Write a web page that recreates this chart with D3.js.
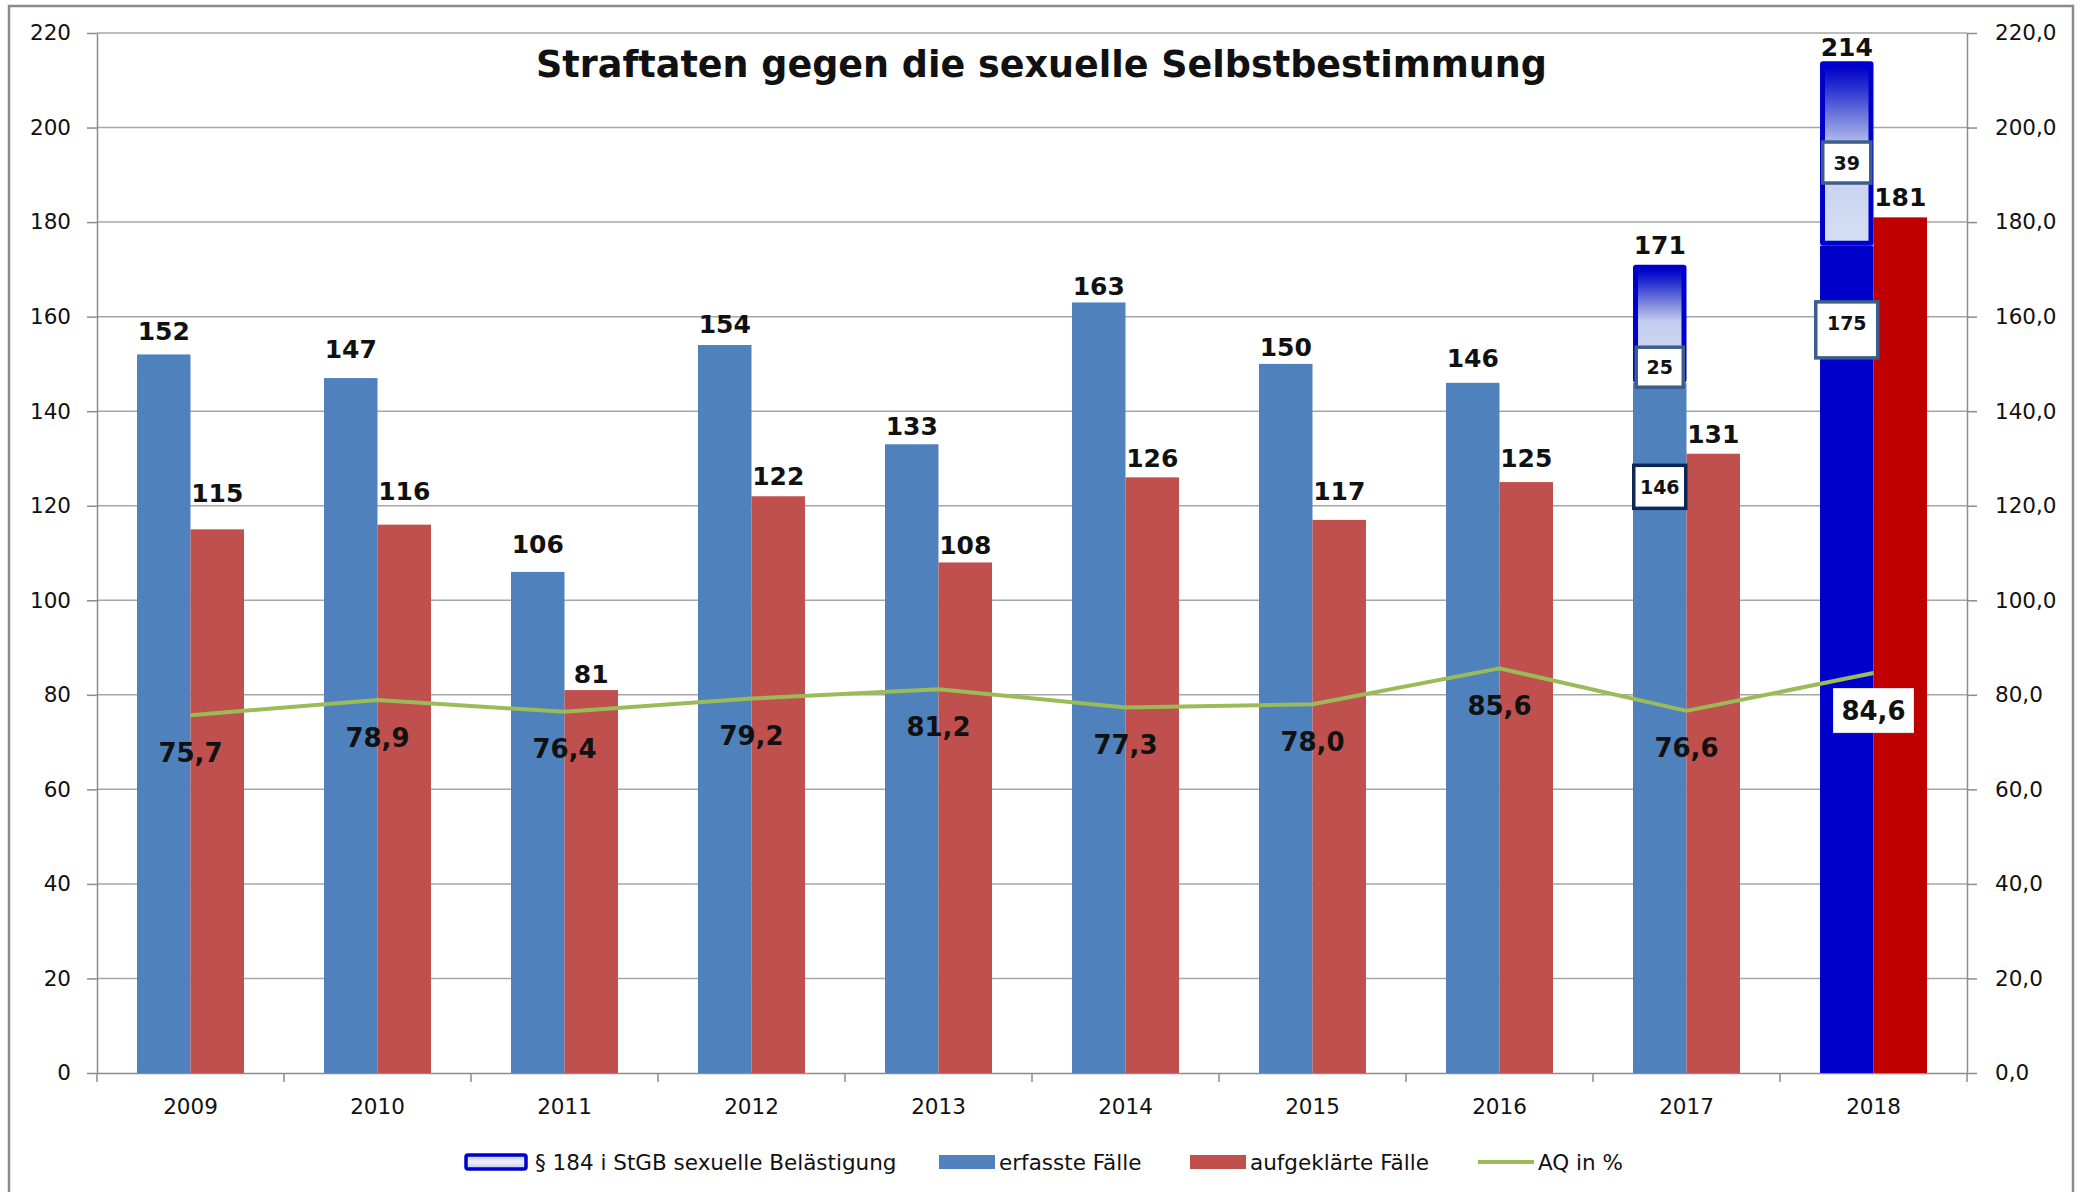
<!DOCTYPE html>
<html>
<head>
<meta charset="utf-8">
<script src="https://cdn.jsdelivr.net/npm/d3@7"></script>
<style>
  body { margin: 0; background: #fff; }
  svg { display: block; }
  text { font-family: "DejaVu Sans", sans-serif; fill: #111; }
</style>
</head>
<body>
<svg id="chart"></svg>
<script>
// data
const years = ["2009", "2010", "2011", "2012", "2013", "2014", "2015", "2016", "2017", "2018"];
const erfasst = [152, 147, 106, 154, 133, 163, 150, 146, 146, 175];
const aufgeklaert = [115, 116, 81, 122, 108, 126, 117, 125, 131, 181];
const belaestigung = [null, null, null, null, null, null, null, null, 25, 39];
const aq = [75.7, 78.9, 76.4, 79.2, 81.2, 77.3, 78.0, 85.6, 76.6, 84.6];
const yTicks = [0, 20, 40, 60, 80, 100, 120, 140, 160, 180, 200, 220];
const title = "Straftaten gegen die sexuelle Selbstbestimmung";
const legendLabels = ["§ 184 i StGB sexuelle Belästigung", "erfasste Fälle", "aufgeklärte Fälle", "AQ in %"];

//
// look / layout
const W = 2080, H = 1192;
const plotL = 97, plotR = 1967, plotT = 33, plotB = 1073;
const blue = "#4f81bd", red = "#c0504d", darkBlue = "#0000cc", darkRed = "#c00000", green = "#9bbb59";
const highlight = "2018";
// label lift above bar top (px, to the label's middle), as the labels sit in the source
const erfLift = [23, 29, 28, 21, 18, 16, 17, 25, 20, 14];
const aufLift = [36, 34, 16, 20, 17.5, 19, 29, 24, 20, 20];
// boxed labels inside the 2017/2018 bars: where (value units), box size, text shift in box
const boxAt = {
  "2017": {erf: 124, bel: 149.3, erfSize: [52, 43], belSize: [47, 40], erfStroke: "#0f2757", erfDy: 0},
  "2018": {erf: 157.2, bel: 192.6, erfSize: [62, 56], belSize: [48, 41], erfStroke: "#3b5e8c", erfDy: -7}
};

const de = d3.formatLocale({decimal: ",", thousands: ".", grouping: [3], currency: ["", " €"]});
const fmt1 = de.format(".1f");

const svg = d3.select("#chart").attr("width", W).attr("height", H);
svg.append("rect").attr("width", W).attr("height", H).attr("fill", "#fff");

// frame
svg.append("rect")
  .attr("x", 9).attr("y", 6).attr("width", 2064).attr("height", 1210)
  .attr("fill", "none").attr("stroke", "#8a8a8a").attr("stroke-width", 2.5);

const defs = svg.append("defs");
const grad = defs.append("linearGradient").attr("id", "belGrad")
  .attr("x1", 0).attr("y1", 0).attr("x2", 0).attr("y2", 1);
[[0, "#0000c8"], [0.12, "#2630d0"], [0.3, "#7680dc"], [0.48, "#c4cdee"], [1, "#d4def2"]]
  .forEach(s => grad.append("stop").attr("offset", s[0]).attr("stop-color", s[1]));
const lgrad = defs.append("linearGradient").attr("id", "legGrad")
  .attr("x1", 0).attr("y1", 0).attr("x2", 0).attr("y2", 1);
[[0, "#b8c2ec"], [0.5, "#eef2fb"], [1, "#b8c2ec"]]
  .forEach(s => lgrad.append("stop").attr("offset", s[0]).attr("stop-color", s[1]));

//
// scales
const x = d3.scaleBand().domain(years).range([plotL, plotR]);
const x1 = d3.scaleBand().domain(["erf", "auf"]).range([0, x.bandwidth()]).paddingOuter(0.748);
const y = d3.scaleLinear().domain([0, 220]).range([plotB, plotT]);

//
// gridlines
svg.append("g").selectAll("line")
  .data(yTicks.filter(v => v > 0))
  .join("line")
  .attr("x1", plotL).attr("x2", plotR)
  .attr("y1", d => y(d)).attr("y2", d => y(d))
  .attr("stroke", "#a6a6a6").attr("stroke-width", 1.5);

//
// axes
const axL = svg.append("g").attr("transform", `translate(${plotL},0)`)
  .call(d3.axisLeft(y).tickValues(yTicks).tickSize(10).tickPadding(16).tickSizeOuter(0));
const axR = svg.append("g").attr("transform", `translate(${plotR},0)`)
  .call(d3.axisRight(y).tickValues(yTicks).tickFormat(fmt1).tickSize(10).tickPadding(18).tickSizeOuter(0));
const axB = svg.append("g").attr("transform", `translate(0,${plotB})`)
  .call(d3.axisBottom(x).tickSize(0).tickPadding(26).tickSizeOuter(0));
[axL, axR, axB].forEach(a => {
  a.selectAll("path, line").attr("stroke", "#8c8c8c").attr("stroke-width", 1.5);
  a.selectAll("text").style("font-family", "DejaVu Sans, sans-serif").style("font-size", "21.5px").attr("fill", "#222");
});
// category boundary ticks
svg.append("g").selectAll("line")
  .data(years.map(d => x(d)).concat([plotR]))
  .join("line")
  .attr("x1", d => d).attr("x2", d => d)
  .attr("y1", plotB).attr("y2", plotB + 9)
  .attr("stroke", "#8c8c8c").attr("stroke-width", 1.5);

//
// bars
const rows = years.map((yr, i) => ({yr, i, erf: erfasst[i], auf: aufgeklaert[i], bel: belaestigung[i], aq: aq[i]}));
const grp = svg.append("g").selectAll("g")
  .data(rows).join("g")
  .attr("transform", d => `translate(${x(d.yr)},0)`);

grp.append("rect")
  .attr("x", x1("erf")).attr("width", x1.bandwidth())
  .attr("y", d => y(d.erf)).attr("height", d => y(0) - y(d.erf))
  .attr("fill", d => d.yr === highlight ? darkBlue : blue);
grp.append("rect")
  .attr("x", x1("auf")).attr("width", x1.bandwidth())
  .attr("y", d => y(d.auf)).attr("height", d => y(0) - y(d.auf))
  .attr("fill", d => d.yr === highlight ? darkRed : red);

// § 184 segment stacked on top of erfasste Fälle
const seg = grp.filter(d => d.bel != null);
seg.append("rect")
  .attr("x", x1("erf")).attr("width", x1.bandwidth())
  .attr("y", d => y(d.erf + d.bel)).attr("height", d => y(d.erf) - y(d.erf + d.bel))
  .attr("rx", 3)
  .attr("fill", darkBlue);
seg.append("rect")
  .attr("x", x1("erf") + 5).attr("width", x1.bandwidth() - 10)
  .attr("y", d => y(d.erf + d.bel) + 5).attr("height", d => y(d.erf) - y(d.erf + d.bel) - 10)
  .attr("fill", "url(#belGrad)");

//
// AQ line
svg.append("path")
  .datum(rows)
  .attr("fill", "none").attr("stroke", green).attr("stroke-width", 4)
  .attr("stroke-linejoin", "round")
  .attr("d", d3.line().x(d => x(d.yr) + x.bandwidth() / 2).y(d => y(d.aq)));

//
// value labels above bars
const cx = (d, key) => x(d.yr) + x1(key) + x1.bandwidth() / 2;
grp.append("text")
  .attr("x", d => x1("erf") + x1.bandwidth() / 2)
  .attr("y", d => y(d.erf + (d.bel || 0)) - erfLift[d.i] + 9)
  .attr("text-anchor", "middle")
  .style("font-size", "25px").style("font-weight", "bold")
  .text(d => d.erf + (d.bel || 0));
grp.append("text")
  .attr("x", d => x1("auf") + x1.bandwidth() / 2)
  .attr("y", d => y(d.auf) - aufLift[d.i] + 9)
  .attr("text-anchor", "middle")
  .style("font-size", "25px").style("font-weight", "bold")
  .text(d => d.auf);

// boxed labels for 2017 / 2018
function boxLabel(g, cxv, cyv, size, stroke, txt, dy) {
  g.append("rect")
    .attr("x", cxv - size[0] / 2).attr("y", cyv - size[1] / 2)
    .attr("width", size[0]).attr("height", size[1])
    .attr("fill", "#fff").attr("stroke", stroke).attr("stroke-width", 3.5);
  g.append("text")
    .attr("x", cxv).attr("y", cyv + 7 + dy)
    .attr("text-anchor", "middle")
    .style("font-size", "19px").style("font-weight", "bold")
    .text(txt);
}
const boxes = svg.append("g");
rows.filter(d => d.bel != null).forEach(d => {
  const b = boxAt[d.yr];
  const bx = cx(d, "erf");
  boxLabel(boxes, bx, y(b.erf), b.erfSize, b.erfStroke, d.erf, b.erfDy);
  boxLabel(boxes, bx, y(b.bel), b.belSize, "#3b5e8c", d.bel, 0);
});

//
// AQ labels below the line
const aqLab = svg.append("g");
rows.forEach(d => {
  const lx = x(d.yr) + x.bandwidth() / 2, ly = y(d.aq) + 37;
  if (d.yr === highlight) {
    aqLab.append("rect")
      .attr("x", lx - 40).attr("y", ly - 21.5).attr("width", 80).attr("height", 44)
      .attr("fill", "#fff").attr("stroke", "#e4e4e4").attr("stroke-width", 1);
  }
  aqLab.append("text")
    .attr("x", lx).attr("y", ly + 9.5)
    .attr("text-anchor", "middle")
    .style("font-size", "26px").style("font-weight", "bold")
    .text(fmt1(d.aq));
});

//
// title
svg.append("text")
  .attr("x", 536).attr("y", 77)
  .attr("textLength", 1011).attr("lengthAdjust", "spacingAndGlyphs")
  .style("font-size", "38px").style("font-weight", "bold")
  .text(title);

//
// legend
const lg = svg.append("g");
const legY = 1162;
lg.append("rect").attr("x", 466).attr("y", legY - 7).attr("width", 60).attr("height", 14)
  .attr("fill", "url(#legGrad)").attr("stroke", darkBlue).attr("stroke-width", 3.5).attr("rx", 2);
lg.append("rect").attr("x", 939).attr("y", legY - 7).attr("width", 56).attr("height", 14).attr("fill", blue);
lg.append("rect").attr("x", 1190).attr("y", legY - 7).attr("width", 56).attr("height", 14).attr("fill", red);
lg.append("line").attr("x1", 1478).attr("x2", 1534).attr("y1", legY).attr("y2", legY)
  .attr("stroke", green).attr("stroke-width", 4);
[535, 999, 1250, 1538].forEach((lx, i) => {
  lg.append("text")
    .attr("x", lx).attr("y", legY + 8)
    .style("font-size", "21.5px")
    .attr("fill", "#222")
    .text(legendLabels[i]);
});
</script>
</body>
</html>
